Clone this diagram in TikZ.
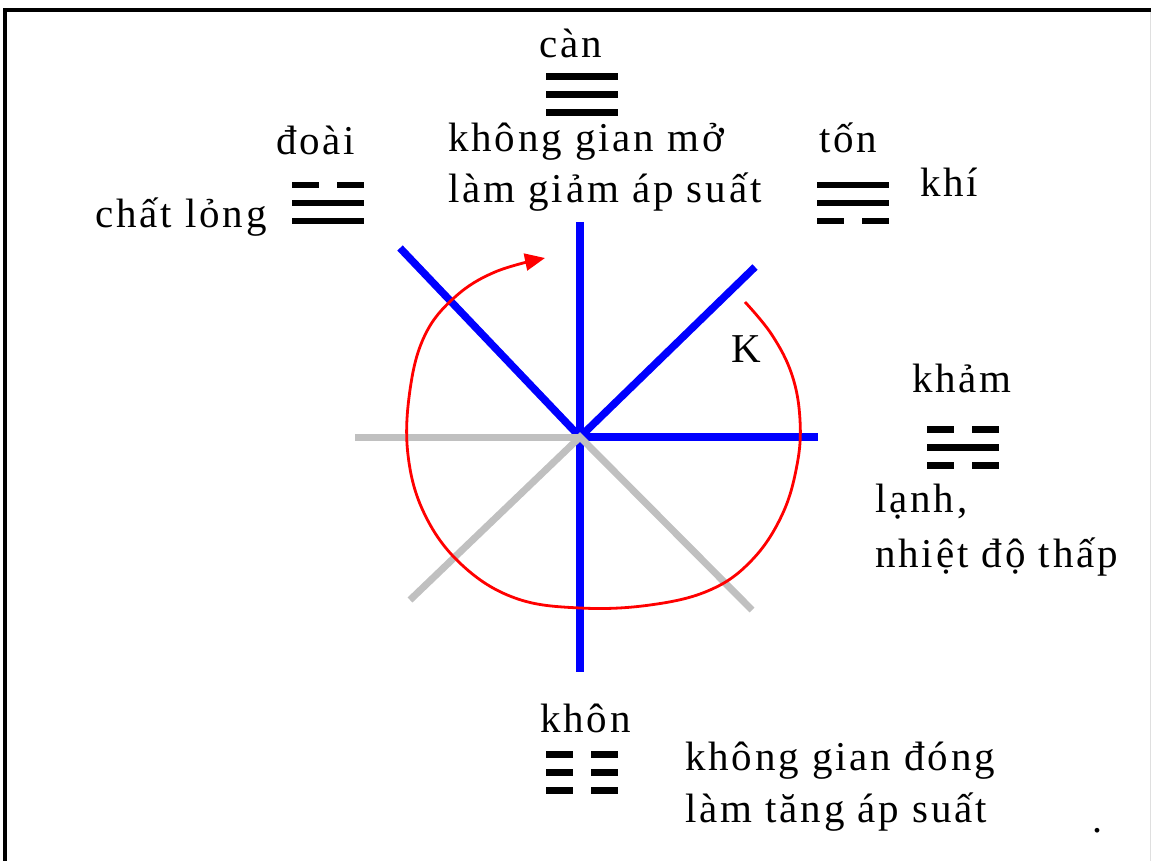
\documentclass[tikz,border=0pt]{standalone}
\usepackage{fontspec}
\setmainfont[LetterSpace=7]{Liberation Serif}
\usetikzlibrary{arrows.meta}
\definecolor{axBlue}{HTML}{0000FF}
\definecolor{axGray}{HTML}{C0C0C0}
\definecolor{cycRed}{HTML}{FF0000}
\tikzset{
    % Text
    lbl/.style={anchor=base west, inner sep=0pt, font=\fontsize{41}{51}\selectfont},
    % Axes
    axOpen/.style={draw=axBlue, line width=7.5pt},
    axClosed/.style={draw=axGray, line width=7pt},
    % Trigram bars
    bar/.style={line width=6.5pt, line cap=butt},
    cycArrow/.style={draw=cycRed, line width=2.8pt, -{Triangle[length=20pt, width=17pt]}}
}
% trigram: left/top position, then solid(1)/broken(0) from top to bottom
\newcommand{\trigram}[2]{%
  \begin{scope}[shift={#1}]
    \foreach \solid [count=\i from 0] in {#2} {
      \ifnum\solid=1
        \draw[bar] (0,\i*18) -- (72,\i*18);
      \else
        \draw[bar] (0,\i*18) -- (27,\i*18);
        \draw[bar] (45,\i*18) -- (72,\i*18);
      \fi
    }
  \end{scope}}

\begin{document}
\begin{tikzpicture}[x=1pt, y=-1pt]
\useasboundingbox (0,0) rectangle (1151,861);
% frame
\draw[line width=4pt] (4.5,861) -- (4.5,10) -- (1151,10);
\draw[line width=1pt, gray!25] (1150.5,12) -- (1150.5,861);

% axes
\coordinate (O) at (580,437);
\coordinate (up) at (580,222);
\coordinate (down) at (580,672);
\coordinate (ul) at (400,248);
\coordinate (ur) at (755,267);
\coordinate (right) at (818,437);
\coordinate (left) at (355,437);
\coordinate (dl) at (410,600);
\coordinate (dr) at (752,610);

\draw[axOpen] (up) -- (down);
\draw[axOpen] (ul) -- (O) -- (ur);
\draw[axOpen] (O) -- (right);
\draw[axClosed] (left) -- (O);
\draw[axClosed] (dl) -- (O) -- (dr);

% cycle
\draw[cycArrow] plot[smooth, tension=0.65] coordinates {
  (745,302) (772,335) (792,375) (800,420) (797,465) (782,515) (752,560)
  (710,590) (650,605) (580,608) (515,598) (462,565) (425,515) (408,455)
  (410,390) (425,335) (455,297) (495,272) (545,258)};

% trigrams
\trigram{(546,76.5)}{1,1,1}
\trigram{(292,185)}{0,1,1}
\trigram{(817,185)}{1,1,0}
\trigram{(927,429.5)}{0,1,0}
\trigram{(546,754.5)}{0,0,0}

% labels
\node[lbl] (can) at (539,58) {càn};
\node[lbl] (doai) at (276,155) {đoài};
\node[lbl] (ton) at (819,153) {tốn};
\node[lbl] (kham) at (912,392) {khảm};
\node[lbl] (khon) at (540,732) {khôn};
\node[lbl] (K) at (731,362) {K};

\node[lbl] (mo1) at (448,152) {không gian mở};
\node[lbl] (mo2) at (448,203) {làm giảm áp suất};
\node[lbl] (long) at (95,227) {chất lỏng};
\node[lbl] (khi) at (920,197) {khí};
\node[lbl] (lanh1) at (875,512) {lạnh,};
\node[lbl] (lanh2) at (875,567) {nhiệt độ thấp};
\node[lbl] (dong1) at (685,770) {không gian đóng};
\node[lbl] (dong2) at (685,822) {làm tăng áp suất};

% stray dot
\node[anchor=base, inner sep=0pt, font=\fontsize{40}{48}\selectfont] (dot) at (1097,832) {.};
\end{tikzpicture}
\end{document}
